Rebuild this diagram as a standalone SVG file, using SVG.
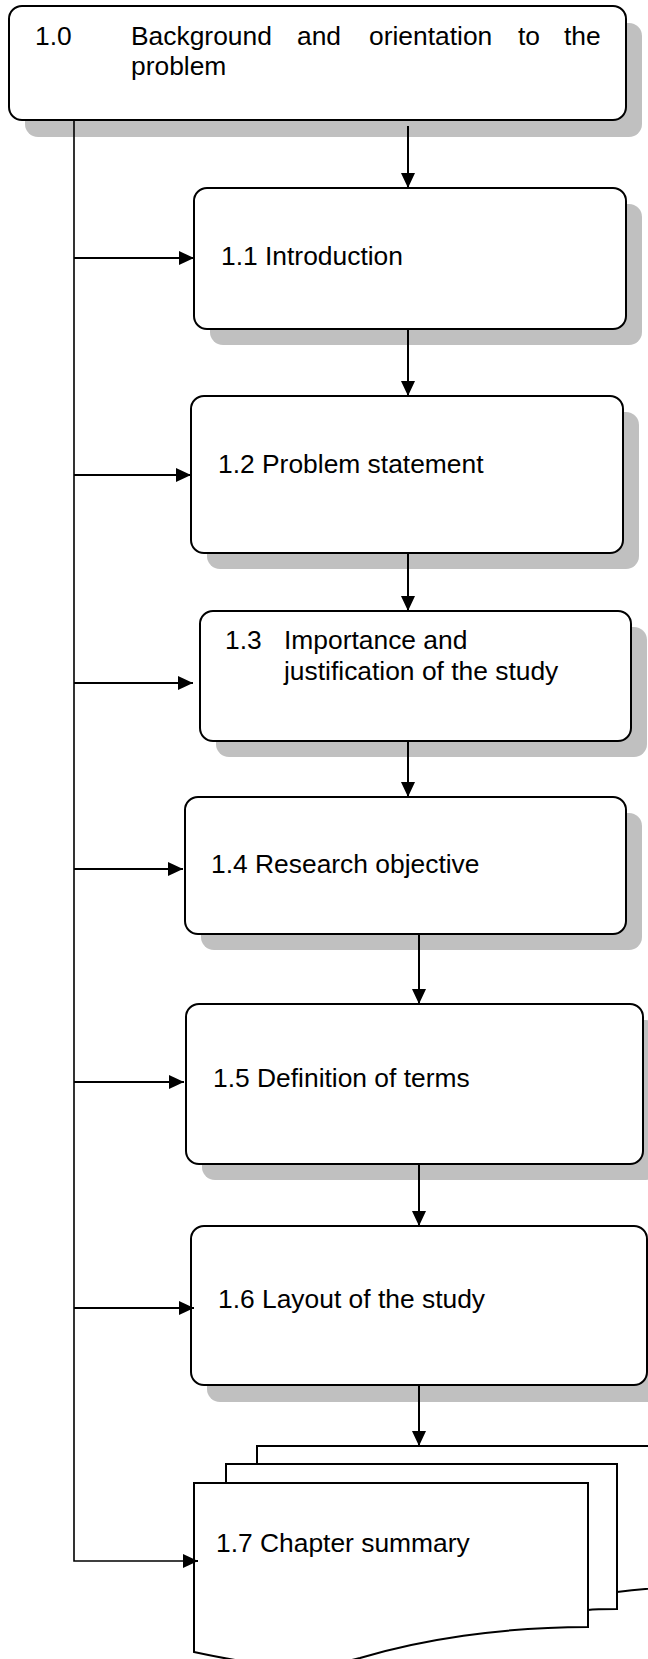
<svg xmlns="http://www.w3.org/2000/svg" width="648" height="1659" viewBox="0 0 648 1659">
<defs>
<style>
.box{fill:#fff;stroke:#000;stroke-width:2}
.shadow{fill:#c0c0c0;stroke:none}
.page{fill:#fff;stroke:#000;stroke-width:2}
.lbl{font-family:"Liberation Sans",Arial,sans-serif;font-size:26.4px;fill:#000}
.conn{fill:none;stroke:#000;stroke-width:2}
.trunk{fill:none;stroke:#000;stroke-width:1.6}
</style>
<marker id="ah" markerUnits="userSpaceOnUse" markerWidth="16" markerHeight="15" refX="15" refY="7" orient="auto">
<path d="M0,0 L15,7 L0,14 Z" fill="#000"/>
</marker>
</defs>
<rect width="648" height="1659" fill="#fff"/>

<g id="node-1-0">
<rect class="shadow" x="25" y="23" width="617" height="114" rx="13"/>
<rect class="box" x="9" y="6" width="617" height="114" rx="13"/>
<text class="lbl" x="35" y="45">1.0</text>
<text class="lbl" x="131" y="45">Background</text>
<text class="lbl" x="297" y="45">and</text>
<text class="lbl" x="369" y="45">orientation</text>
<text class="lbl" x="518" y="45">to</text>
<text class="lbl" x="564" y="45">the</text>
<text class="lbl" x="131" y="75">problem</text>
</g>

<g id="node-1-1">
<rect class="shadow" x="210" y="204" width="432" height="141" rx="13"/>
<rect class="box" x="194" y="188" width="432" height="141" rx="13"/>
<text class="lbl" x="221" y="265">1.1 Introduction</text>
</g>

<g id="node-1-2">
<rect class="shadow" x="207" y="412" width="432" height="157" rx="13"/>
<rect class="box" x="191" y="396" width="432" height="157" rx="13"/>
<text class="lbl" x="218" y="473">1.2 Problem statement</text>
</g>

<g id="node-1-3">
<rect class="shadow" x="216" y="627" width="431" height="130" rx="13"/>
<rect class="box" x="200" y="611" width="431" height="130" rx="13"/>
<text class="lbl" x="225" y="649">1.3</text>
<text class="lbl" x="284" y="649">Importance and</text>
<text class="lbl" x="284" y="680">justification of the study</text>
</g>

<g id="node-1-4">
<rect class="shadow" x="201" y="813" width="441" height="137" rx="13"/>
<rect class="box" x="185" y="797" width="441" height="137" rx="13"/>
<text class="lbl" x="211" y="873">1.4 Research objective</text>
</g>

<g id="node-1-5">
<rect class="shadow" x="202" y="1020" width="457" height="160" rx="13"/>
<rect class="box" x="186" y="1004" width="457" height="160" rx="13"/>
<text class="lbl" x="213" y="1087">1.5 Definition of terms</text>
</g>

<g id="node-1-6">
<rect class="shadow" x="207" y="1242" width="456" height="160" rx="13"/>
<rect class="box" x="191" y="1226" width="456" height="159" rx="13"/>
<text class="lbl" x="218" y="1308">1.6 Layout of the study</text>
</g>

<g id="node-1-7">
<path class="page" d="M257,1464 L257,1446 L700,1446 L700,1586 C 670,1587 640,1589 617,1592 L257,1600 Z"/>
<path class="page" d="M226,1483 L226,1464 L617,1464 L617,1609 C 605,1609 595,1609 588,1610 L226,1620 Z"/>
<path class="page" d="M194,1483 L588,1483 L588,1627 C 500,1627 420,1640 360,1658 C 300,1674 240,1662 194,1652 Z"/>
<text class="lbl" x="216" y="1552">1.7 Chapter summary</text>
</g>

<g id="connectors">
<polyline class="trunk" points="74,120 74,1561 183,1561"/>
<line class="conn" x1="183" y1="1561" x2="198" y2="1561" marker-end="url(#ah)"/>
<line class="conn" x1="74" y1="258" x2="194" y2="258" marker-end="url(#ah)"/>
<line class="conn" x1="74" y1="475" x2="191" y2="475" marker-end="url(#ah)"/>
<line class="conn" x1="74" y1="683" x2="193" y2="683" marker-end="url(#ah)"/>
<line class="conn" x1="74" y1="869" x2="183" y2="869" marker-end="url(#ah)"/>
<line class="conn" x1="74" y1="1082" x2="184" y2="1082" marker-end="url(#ah)"/>
<line class="conn" x1="74" y1="1308" x2="194" y2="1308" marker-end="url(#ah)"/>
<line class="conn" x1="408" y1="126" x2="408" y2="188" marker-end="url(#ah)"/>
<line class="conn" x1="408" y1="329" x2="408" y2="396" marker-end="url(#ah)"/>
<line class="conn" x1="408" y1="553" x2="408" y2="611" marker-end="url(#ah)"/>
<line class="conn" x1="408" y1="741" x2="408" y2="797" marker-end="url(#ah)"/>
<line class="conn" x1="419" y1="934" x2="419" y2="1004" marker-end="url(#ah)"/>
<line class="conn" x1="419" y1="1164" x2="419" y2="1226" marker-end="url(#ah)"/>
<line class="conn" x1="419" y1="1385" x2="419" y2="1446" marker-end="url(#ah)"/>
</g>
</svg>
